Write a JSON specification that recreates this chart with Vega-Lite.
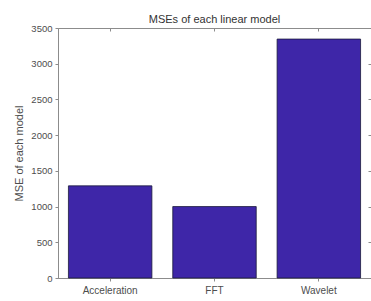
{
  "$schema": "https://vega.github.io/schema/vega-lite/v6.json",
  "autosize": "none",
  "width": 313,
  "height": 250,
  "padding": {"left": 58, "top": 28, "right": 0, "bottom": 23},
  "background": "white",
  "title": {"text": "MSEs of each linear model", "font": "Liberation Sans", "fontSize": 11, "fontWeight": "normal", "color": "#333333", "offset": -2},
  "config": {
    "view": {"stroke": "#8c8c8c", "strokeWidth": 1},
    "axis": {"labelFont": "Liberation Sans", "titleFont": "Liberation Sans", "labelColor": "#4d4d4d", "titleColor": "#4d4d4d", "domainColor": "#8c8c8c", "tickColor": "#8c8c8c", "grid": false}
  },
  "data": {"values": [
    {"model": "Acceleration", "mse": 1290},
    {"model": "FFT", "mse": 1000},
    {"model": "Wavelet", "mse": 3345}
  ]},
  "layer": [
    {
      "mark": {"type": "bar", "color": "#3e26a8", "stroke": "#1a1a3a", "strokeWidth": 0.8},
      "encoding": {
        "x": {"field": "model", "type": "nominal", "sort": null,
          "scale": {"paddingInner": 0.2, "paddingOuter": 0.1},
          "axis": {"title": null, "labelAngle": 0, "labelFontSize": 10, "tickSize": 3, "labelPadding": 4}},
        "y": {"field": "mse", "type": "quantitative",
          "scale": {"domain": [0, 3500], "nice": false},
          "axis": {"title": "MSE of each model", "format": "d", "values": [0, 500, 1000, 1500, 2000, 2500, 3000, 3500], "labelFontSize": 9.5, "titleFontSize": 11, "titleFontWeight": "normal", "tickSize": 3, "labelPadding": 3, "titlePadding": 6}}
      }
    },
    {
      "mark": {"type": "point", "opacity": 0},
      "encoding": {
        "x": {"field": "model", "type": "nominal", "sort": null,
          "axis": {"orient": "top", "title": null, "labels": false, "domain": false, "tickSize": -3}},
        "y": {"field": "mse", "type": "quantitative",
          "axis": {"orient": "right", "title": null, "labels": false, "domain": false, "tickSize": -3, "values": [0, 500, 1000, 1500, 2000, 2500, 3000, 3500]}}
      }
    }
  ],
  "resolve": {"axis": {"x": "independent", "y": "independent"}}
}
